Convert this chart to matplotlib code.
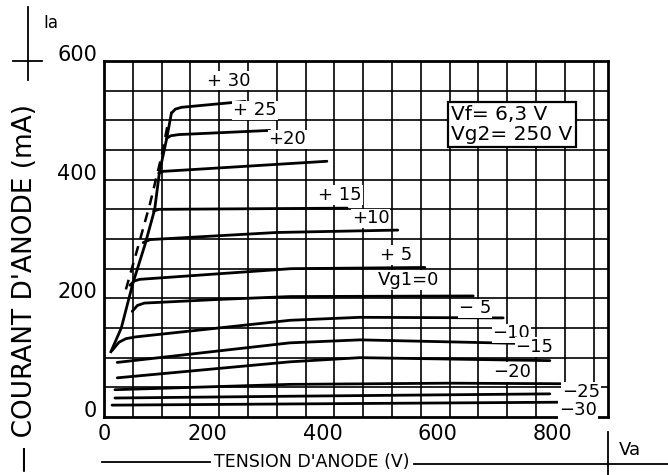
import matplotlib
matplotlib.use("Agg")
import matplotlib.pyplot as plt
from matplotlib.lines import Line2D
from matplotlib.transforms import ScaledTranslation

# anode current curves, Va (V) / Ia (mA), one pair per grid voltage
va_p30 = [117, 124, 135, 245]
ia_p30 = [512, 519, 522, 532]
va_p25 = [109, 116, 130, 288]
ia_p25 = [470, 474, 476, 483]
va_p20 = [95, 103, 387]
ia_p20 = [411, 414, 431]
va_p15 = [86, 95, 422]
ia_p15 = [347, 350, 352]
va_p10 = [68, 80, 300, 510]
ia_p10 = [294, 299, 311, 315]
va_p5 = [45, 52, 62, 325, 557]
ia_p5 = [222, 229, 232, 250, 252]
va_0 = [49, 58, 70, 196, 323, 641]
ia_0 = [178, 188, 192, 198, 203, 204]
va_m5 = [14, 26, 38, 55, 323, 444, 693]
ia_m5 = [112, 126, 132, 135, 163, 168, 167]
va_m10 = [23, 323, 444, 722]
ia_m10 = [92, 125, 130, 124]
va_m15 = [23, 323, 444, 774]
ia_m15 = [66, 93, 100, 95]
va_m20 = [19, 323, 600, 810]
ia_m20 = [46, 55, 57, 56]
va_m25 = [19, 323, 774]
ia_m25 = [32, 35, 39]
va_m30 = [14, 323, 804]
ia_m30 = [20, 22, 25]

# knee loci
knee_va = [12, 30, 50, 71, 88, 96, 109, 117]
knee_ia = [110, 150, 225, 290, 350, 411, 470, 512]
knee_dash_va = [38, 60, 80, 100, 112]
knee_dash_ia = [215, 290, 360, 440, 500]

curve_labels = ['+ 30', '+ 25', '+20', '+ 15', '+10', '+ 5', 'Vg1=0',
                '− 5', '−10', '−15', '−20', '−25', '−30']
label_va = [217, 262, 318, 410, 463, 507, 528, 644, 707, 747, 708, 828, 823]
label_ia = [567, 517, 468, 374, 335, 273, 231, 183, 141, 118, 76, 42, 12]

x_ticks = [0, 200, 400, 600, 800]
y_ticks = [0, 200, 400, 600]

curves = [(va_p30, ia_p30), (va_p25, ia_p25), (va_p20, ia_p20),
          (va_p15, ia_p15), (va_p10, ia_p10), (va_p5, ia_p5), (va_0, ia_0),
          (va_m5, ia_m5), (va_m10, ia_m10), (va_m15, ia_m15),
          (va_m20, ia_m20), (va_m25, ia_m25), (va_m30, ia_m30)]

W, H = 668, 475
fig = plt.figure(figsize=(W / 100, H / 100), dpi=100)
ax = fig.add_axes([104 / W, 1 - 417 / H, (608 - 104) / W, (417 - 61) / H])


def px(x, y):
    return x / W, 1 - y / H


ax.set_xlim(0, 875)
ax.set_ylim(0, 600)
for v in range(50, 875, 50):
    ax.axvline(v, color='black', lw=1.2, zorder=1)
for i in range(50, 600, 50):
    ax.axhline(i, color='black', lw=1.2, zorder=1)
for s in ax.spines.values():
    s.set_linewidth(2)

for va, ia in curves:
    ax.plot(va, ia, color='black', lw=2, solid_capstyle='round', zorder=3)
ax.plot(knee_va, knee_ia, color='black', lw=2, zorder=3)
ax.plot(knee_dash_va, knee_dash_ia, color='black', lw=1.8,
        linestyle=(0, (4, 3)), zorder=3)

for txt, x, y in zip(curve_labels, label_va, label_ia):
    ax.text(x, y, txt, fontsize=13, ha='center', va='center', zorder=4,
            bbox=dict(facecolor='white', edgecolor='none', pad=0.5))

ax.text(603, 493, 'Vf= 6,3 V\nVg2= 250 V', fontsize=14.5, ha='left', va='center',
        linespacing=1.1, zorder=5,
        bbox=dict(facecolor='white', edgecolor='black', linewidth=1.6,
                  boxstyle='square,pad=0.15'))

ax.set_xticks(x_ticks)
ax.set_yticks(y_ticks)
ax.tick_params(length=0, labelsize=15, pad=5)
for lab in ax.get_xticklabels()[1:]:
    lab.set_transform(lab.get_transform() + ScaledTranslation(-0.12, 0, fig.dpi_scale_trans))
for lab in ax.get_yticklabels():
    lab.set_transform(lab.get_transform() + ScaledTranslation(0, 0.08, fig.dpi_scale_trans))

# axis decorations drawn like the datasheet
def fig_line(x0, y0, x1, y1):
    a, b = px(x0, y0)
    c, d = px(x1, y1)
    fig.add_artist(Line2D([a, c], [b, d], transform=fig.transFigure,
                          color='black', lw=1.3))


fig_line(102, 462, 210, 462)
fig_line(414, 464, 668, 464)
fig_line(608, 432, 608, 475)
fig_line(28, 7, 28, 80)
fig_line(13, 61, 42, 61)

fig.text(*px(312, 462), "TENSION D'ANODE (V)", fontsize=12.5, ha='center', va='center')
fig.text(*px(630, 450), 'Va', fontsize=13, ha='center', va='center')
fig.text(*px(51, 23), 'Ia', fontsize=12, ha='center', va='center')
fig.text(*px(25, 288), "— COURANT D'ANODE (mA)", fontsize=19, rotation=90,
         ha='center', va='center')

fig.savefig('out.png', dpi=100)
